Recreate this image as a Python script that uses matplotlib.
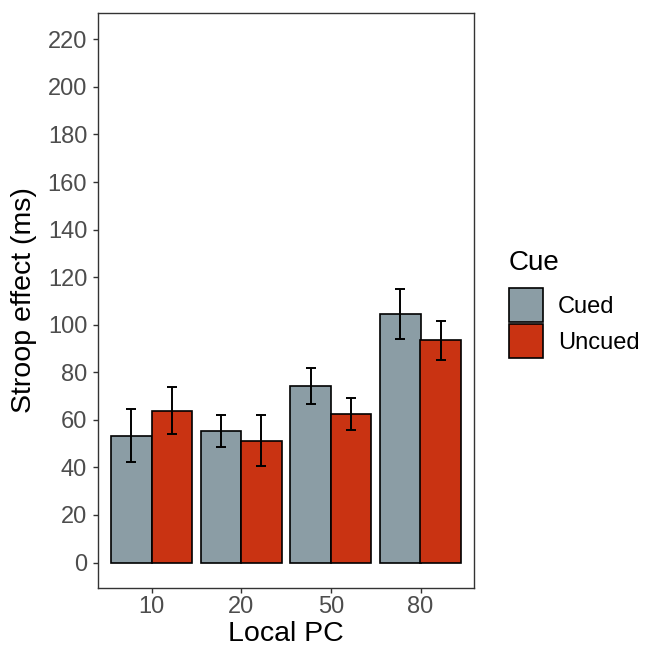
import numpy as np
import matplotlib.pyplot as plt

plt.rcParams['font.family'] = ['Liberation Sans', 'DejaVu Sans']

local_pc = ['10', '20', '50', '80']
cue_levels = ['Cued', 'Uncued']
cued_mean = [53.3, 55.3, 74.1, 104.4]
cued_low = [42.2, 48.7, 66.7, 93.8]
cued_high = [64.6, 62.2, 81.7, 114.9]
uncued_mean = [63.7, 51.2, 62.3, 93.5]
uncued_low = [53.9, 40.6, 55.9, 85.1]
uncued_high = [73.8, 61.9, 69.1, 101.7]
colors = ['#8b9da5', '#c93312']

W, H = 648, 653
fig = plt.figure(figsize=(W / 100, H / 100), dpi=100)
ax = fig.add_axes([97.7 / W, 1 - 588 / H, (474.3 - 97.7) / W, (588 - 12.7) / H])

x = np.arange(1, len(local_pc) + 1)
w = 0.45
series = [(cued_mean, cued_low, cued_high), (uncued_mean, uncued_low, uncued_high)]
for i, (m, lo, hi) in enumerate(series):
    pos = x + (i - 0.5) * w
    m = np.array(m)
    ax.bar(pos, m, width=w, color=colors[i], edgecolor='black', linewidth=1.2,
           label=cue_levels[i], zorder=2)
    ax.errorbar(pos, m, yerr=[m - np.array(lo), np.array(hi) - m], fmt='none',
                ecolor='black', elinewidth=1.4, capsize=3.5, capthick=1.4, zorder=3)

ax.set_xlim(0.4, 4.6)
ax.set_ylim(-10.7, 231.2)
ax.set_xticks(x)
ax.set_xticklabels(local_pc)
ax.set_yticks(np.arange(0, 221, 20))
ax.tick_params(axis='both', colors='#333333', labelcolor='#4d4d4d', labelsize=17,
               length=3.6, width=1)
ax.tick_params(axis='x', pad=2.5)
ax.tick_params(axis='y', pad=4)
for s in ax.spines.values():
    s.set_color('#333333')
    s.set_linewidth(1)
ax.set_xlabel('Local PC', fontsize=20.5, labelpad=2)
ax.set_ylabel('Stroop effect (ms)', fontsize=20.5, labelpad=7.5)

# legend: keys via ax.legend, title placed as text
fig.text(509 / W, 1 - 270 / H, 'Cue', fontsize=20, va='baseline', ha='left')
ax.legend(loc='upper left', bbox_to_anchor=(509 / W, 1 - 288 / H),
          bbox_transform=fig.transFigure, frameon=False, fontsize=17,
          handlelength=1.44, handleheight=1.84, labelspacing=0.08,
          handletextpad=0.63, borderaxespad=0, borderpad=0)

fig.savefig('out.png', dpi=100)
